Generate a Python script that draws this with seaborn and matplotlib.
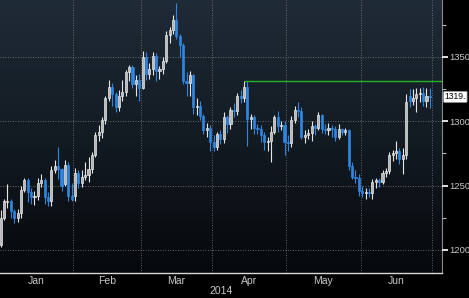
import numpy as np
import pandas as pd
import matplotlib
matplotlib.use("Agg")
import matplotlib.pyplot as plt
import seaborn as sns
from matplotlib.colors import LinearSegmentedColormap

# ---- data (XAU daily candles, Jan-Jun 2014) ----
dates = pd.bdate_range("2014-01-02", "2014-06-30")

opens = [1204, 1225, 1237, 1238, 1230, 1225, 1229, 1247, 1254, 1245, 1241, 1242, 1252, 1254, 1241, 1238, 1262, 1265, 1263, 1251, 1266, 1242,
         1242, 1260, 1252, 1257, 1258, 1263, 1274, 1289, 1292, 1301, 1318, 1327, 1321, 1311, 1320, 1323, 1338, 1342, 1329, 1332,
         1326, 1350, 1337, 1341, 1351, 1339, 1341, 1347, 1367, 1371, 1379, 1366, 1359, 1331, 1330, 1336, 1311, 1312, 1304, 1293, 1295,
         1284, 1280, 1290, 1286, 1303, 1298, 1309, 1308, 1320, 1318, 1327, 1302, 1303, 1295, 1294, 1289, 1284, 1285, 1292, 1303, 1296, 1297,
         1284, 1283, 1301, 1309, 1308, 1288, 1289, 1291, 1296, 1295, 1305, 1294, 1293, 1295, 1294, 1288, 1294, 1292, 1293, 1265, 1257, 1256,
         1246, 1244, 1245, 1244, 1253, 1254, 1253, 1260, 1261, 1274, 1275, 1277, 1271, 1274, 1320, 1316, 1318, 1321, 1322, 1316, 1320]
highs = [1231, 1240, 1251, 1240, 1232, 1232, 1250, 1256, 1256, 1248, 1246, 1256, 1259, 1256, 1245, 1265, 1270, 1280, 1264, 1270, 1268, 1252,
         1264, 1262, 1262, 1268, 1272, 1276, 1292, 1297, 1303, 1320, 1332, 1330, 1323, 1324, 1332, 1340, 1344, 1344, 1336, 1337,
         1355, 1354, 1345, 1354, 1353, 1343, 1350, 1370, 1373, 1383, 1392, 1368, 1361, 1338, 1339, 1337, 1318, 1316, 1306, 1299, 1297,
         1289, 1292, 1293, 1307, 1305, 1311, 1314, 1322, 1324, 1331, 1331, 1306, 1305, 1298, 1297, 1292, 1288, 1296, 1305, 1308, 1300, 1300,
         1289, 1304, 1312, 1315, 1311, 1293, 1294, 1300, 1298, 1307, 1306, 1298, 1299, 1297, 1296, 1298, 1295, 1295, 1294, 1268, 1262, 1259,
         1250, 1248, 1248, 1255, 1256, 1256, 1262, 1264, 1276, 1278, 1285, 1279, 1279, 1321, 1325, 1325, 1326, 1326, 1327, 1326, 1326]
lows = [1202, 1223, 1233, 1225, 1221, 1222, 1225, 1245, 1237, 1236, 1235, 1239, 1249, 1236, 1234, 1234, 1260, 1255, 1246, 1250, 1238, 1238,
        1238, 1248, 1249, 1254, 1253, 1260, 1272, 1285, 1287, 1298, 1316, 1312, 1307, 1308, 1316, 1320, 1331, 1326, 1320, 1316,
        1325, 1332, 1333, 1336, 1331, 1333, 1337, 1345, 1361, 1368, 1364, 1350, 1329, 1320, 1320, 1306, 1305, 1301, 1290, 1288, 1277,
        1277, 1278, 1282, 1283, 1291, 1294, 1303, 1305, 1314, 1315, 1281, 1294, 1290, 1290, 1284, 1278, 1277, 1268, 1290, 1292, 1293, 1274,
        1277, 1280, 1299, 1303, 1286, 1283, 1286, 1285, 1289, 1293, 1291, 1290, 1289, 1288, 1285, 1286, 1289, 1289, 1262, 1255, 1252, 1242,
        1241, 1240, 1241, 1240, 1248, 1249, 1251, 1257, 1259, 1269, 1271, 1267, 1259, 1271, 1311, 1313, 1307, 1315, 1312, 1311, 1310]
closes = [1225, 1238, 1238, 1230, 1225, 1229, 1247, 1254, 1245, 1241, 1242, 1252, 1254, 1241, 1238, 1262, 1265, 1263, 1250, 1266, 1242, 1240,
          1260, 1252, 1257, 1258, 1263, 1274, 1289, 1292, 1301, 1318, 1327, 1321, 1311, 1320, 1323, 1338, 1342, 1329, 1332, 1326,
          1350, 1337, 1341, 1351, 1339, 1341, 1347, 1367, 1371, 1379, 1366, 1359, 1331, 1330, 1336, 1311, 1312, 1304, 1293, 1295, 1284,
          1280, 1290, 1286, 1303, 1298, 1309, 1308, 1320, 1318, 1327, 1302, 1303, 1295, 1294, 1289, 1284, 1285, 1292, 1303, 1296, 1297, 1284,
          1283, 1301, 1309, 1308, 1288, 1289, 1291, 1296, 1295, 1305, 1294, 1293, 1295, 1294, 1288, 1294, 1292, 1293, 1265, 1257, 1256, 1246,
          1244, 1245, 1244, 1253, 1254, 1253, 1260, 1261, 1274, 1275, 1277, 1271, 1274, 1315, 1316, 1318, 1321, 1322, 1316, 1320, 1319]

resistance_level = 1331
resistance_start = "2014-04-14"
last_price_label = "1319."
y_ticks = [1200, 1250, 1300, 1350]
y_minor = [1225, 1275, 1325, 1375]
year_label = "2014"

# ---- style ----
sns.set_style("dark")
plt.rcParams["font.family"] = ["Liberation Sans", "DejaVu Sans"]

o = np.array(opens, float); h = np.array(highs, float)
l = np.array(lows, float); c = np.array(closes, float)
idx = np.arange(len(dates))

W, H = 469, 298
fig = plt.figure(figsize=(W / 100, H / 100), dpi=100, facecolor="black")
ax = fig.add_axes([0, 25 / H, 442 / W, 273 / H])
x0, x1 = -0.2, 130.6
y0, y1 = 1182.1, 1394.3

# gradient background
cmap = LinearSegmentedColormap.from_list("bg", ["#1f2b37", "#131b23", "#06090c"])
ax.imshow(np.linspace(0, 1, 256).reshape(-1, 1), extent=[x0, x1, y0, y1],
          aspect="auto", cmap=cmap, origin="upper", zorder=0)

# candles
up = c >= o
up_col, up_face = "#e6e6e6", "#b9b9b9"
dn_col = "#2f86e0"
for mask, ecol, fcol in [(up, up_col, up_face), (~up, dn_col, dn_col)]:
    ax.vlines(idx[mask], l[mask], h[mask], color=ecol, lw=0.8, zorder=3)
    body = np.maximum(np.abs(c - o)[mask], 0.8)
    ax.bar(idx[mask], body, bottom=np.minimum(o, c)[mask], width=0.62,
           color=fcol, edgecolor=ecol, linewidth=0.5, zorder=4)

# resistance line
rs = dates.get_loc(pd.Timestamp(resistance_start))
ax.hlines(resistance_level, rs, x1, color="#23b523", lw=1.0, zorder=5)

ax.set_xlim(x0, x1)
ax.set_ylim(y0, y1)

# month boundaries & labels
months = dates.month
bounds = [i - 0.5 for i in range(1, len(dates)) if months[i] != months[i - 1]] + [len(dates) - 0.5]
starts = [-0.5] + bounds[:-1]
centers = [(a + b) / 2 for a, b in zip(starts, bounds)]
labels = [dates[int(a + 0.5)].strftime("%b") for a in starts]

ax.set_xticks(bounds)
ax.set_xticklabels([])
ax.set_xticks(centers, minor=True)
ax.set_xticklabels(labels, minor=True)
ax.tick_params(axis="x", which="major", length=3, width=0.8, color="#d0d0d0", direction="out")
ax.tick_params(axis="x", which="minor", length=0, pad=2, labelsize=7.5, labelcolor="#c8c8c8")

ax.yaxis.tick_right()
ax.set_yticks(y_ticks)
ax.set_yticklabels([str(t) for t in y_ticks])
ax.set_yticks(y_minor, minor=True)
ax.tick_params(axis="y", which="major", length=4, width=1.4, color="#e0e0e0",
               pad=1, labelsize=6.8, labelcolor="#c8c8c8")
ax.tick_params(axis="y", which="minor", length=3, width=0.8, color="#bbbbbb")

ax.grid(True, which="major", color="#9a9a9a", lw=0.6, ls=(0, (1, 2)), alpha=0.8)
ax.set_axisbelow(False)
for g in ax.get_xgridlines() + ax.get_ygridlines():
    g.set_zorder(1)

for s in ["top", "left"]:
    ax.spines[s].set_visible(False)
ax.spines["bottom"].set_color("#d8d8d8"); ax.spines["bottom"].set_linewidth(1.0)
ax.spines["right"].set_color("#8a8a8a"); ax.spines["right"].set_linewidth(0.8)

# year label
fig.text(221 / W, 1 - 291 / H, year_label, ha="center", va="center",
         fontsize=7.5, color="#c8c8c8")

# last price tag
ax.text(1.006, (c[-1] - y0) / (y1 - y0), last_price_label, transform=ax.transAxes,
        ha="left", va="center", fontsize=6.2, color="black", clip_on=False,
        bbox=dict(boxstyle="round,pad=0.12", fc="white", ec="#999999", lw=0.5))

fig.savefig("out.png", dpi=100, facecolor="black")
